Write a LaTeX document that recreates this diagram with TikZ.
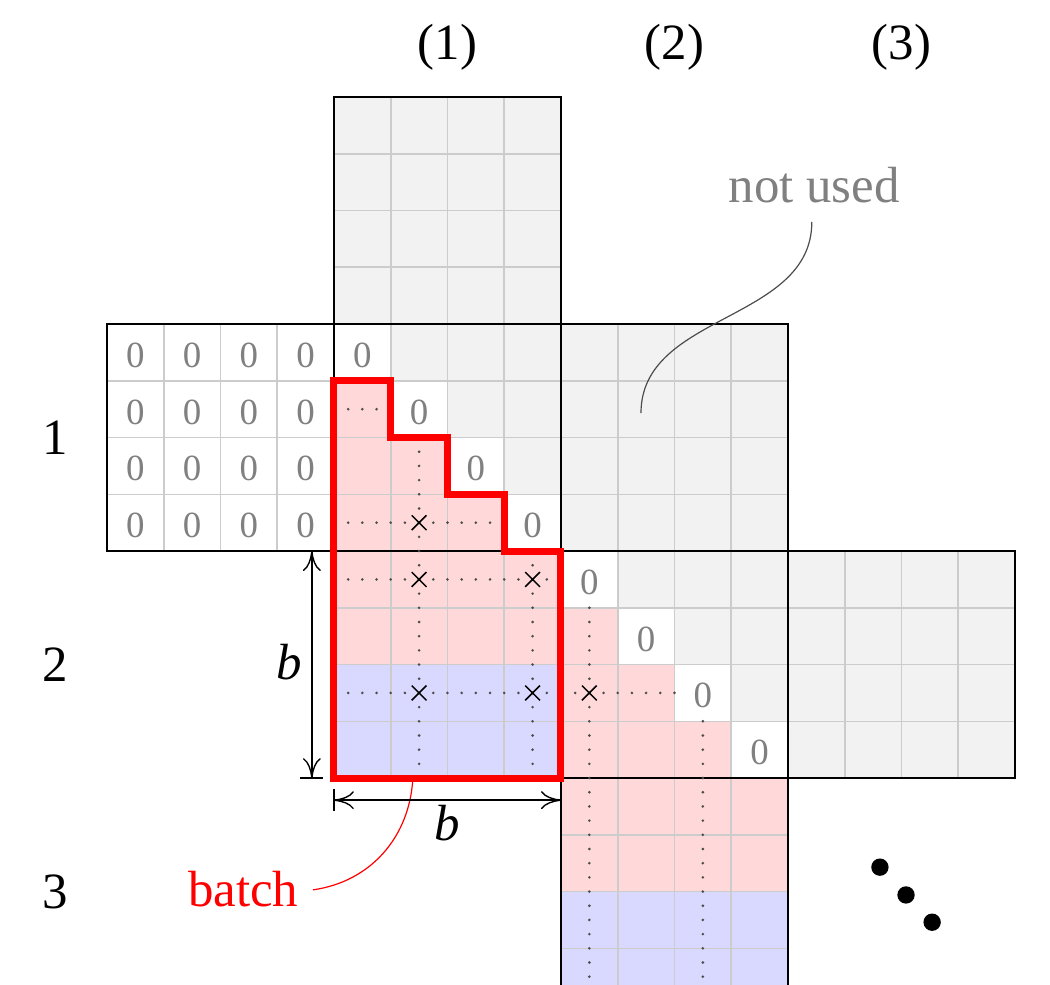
\documentclass[tikz,border=0pt]{standalone}
\usepackage{fontspec}
\setmainfont{Liberation Serif}
\usetikzlibrary{arrows.meta}
\begin{document}
\begin{tikzpicture}[x=1cm,y=1cm,
  graycell/.style={fill=black!5},
  pinkcell/.style={fill=red!15},
  bluecell/.style={fill=blue!15},
  whitecell/.style={fill=white},
  gridline/.style={draw=black!20,line width=0.8pt},
  blockline/.style={draw=black,line width=0.6pt},
  zero/.style={text=black!50,font=\fontsize{18.5}{20}\selectfont,inner sep=0pt},
  dotline/.style={draw=black!70,line width=1.45pt,line cap=round,dash pattern=on 0pt off 0.25cm},
  crossmark/.style={draw=black,line width=0.75pt},
  batchline/.style={draw=red,line width=3.5pt,line join=miter},
  biglabel/.style={font=\fontsize{25.5}{28}\selectfont},
  dimline/.style={line width=0.7pt,{Computer Modern Rightarrow[length=10pt,width=9pt]}-{Computer Modern Rightarrow[length=10pt,width=9pt]}},
  tickline/.style={line width=0.7pt},
  callout/.style={line width=0.6pt},
]
\clip (-1.885,-11.63) rectangle (16.617,5.71);

% ---- fills ----
\fill[graycell] (4,0) rectangle (8,4);
\fill[whitecell] (0,-4) rectangle (4,0);
\fill[graycell] (4,-4) rectangle (8,0);
\fill[pinkcell] (4,-1) -- (5,-1) -- (5,-2) -- (6,-2) -- (6,-3) -- (7,-3) -- (7,-4) -- (4,-4) -- cycle;
\fill[graycell] (8,-4) rectangle (12,0);
\fill[pinkcell] (4,-6) rectangle (8,-4);
\fill[bluecell] (4,-8) rectangle (8,-6);
\fill[graycell] (8,-8) rectangle (12,-4);
\fill[pinkcell] (8,-5) -- (9,-5) -- (9,-6) -- (10,-6) -- (10,-7) -- (11,-7) -- (11,-8) -- (8,-8) -- cycle;
\fill[graycell] (12,-8) rectangle (16,-4);
\fill[pinkcell] (8,-10) rectangle (12,-8);
\fill[bluecell] (8,-12) rectangle (12,-10);
\foreach \i in {0,...,3}{
  \fill[whitecell] (4+\i,-\i) rectangle (5+\i,-1-\i);
  \fill[whitecell] (8+\i,-4-\i) rectangle (9+\i,-5-\i);
}

% ---- grids ----
\draw[gridline] (4,0) grid (8,4);
\draw[gridline] (0,-4) grid (4,0);
\draw[gridline] (4,-4) grid (8,0);
\draw[gridline] (8,-4) grid (12,0);
\draw[gridline] (4,-8) grid (8,-4);
\draw[gridline] (8,-8) grid (12,-4);
\draw[gridline] (12,-8) grid (16,-4);
\draw[gridline] (8,-12) grid (12,-8);

% ---- block borders ----
\draw[blockline] (4,0) rectangle (8,4);
\draw[blockline] (0,-4) rectangle (4,0);
\draw[blockline] (4,-4) rectangle (8,0);
\draw[blockline] (8,-4) rectangle (12,0);
\draw[blockline] (4,-8) rectangle (8,-4);
\draw[blockline] (8,-8) rectangle (12,-4);
\draw[blockline] (12,-8) rectangle (16,-4);
\draw[blockline] (8,-12.5) rectangle (12,-8);

% ---- zeros ----
\foreach \r in {0,...,3}{
  \foreach \c in {0,...,3}{
    \node[zero] (zl-\r-\c) at (0.5+\c,-0.55-\r) {0};
  }
}
\foreach \i in {0,...,3}{
  \node[zero] (za-\i) at (4.5+\i,-0.55-\i) {0};
  \node[zero] (zb-\i) at (8.5+\i,-4.55-\i) {0};
}

% ---- dotted lines ----
\draw[dotline] (4,-1.5) -- (5,-1.5);
\draw[dotline] (4,-3.5) -- (7,-3.5);
\draw[dotline] (4,-4.5) -- (8,-4.5);
\draw[dotline] (4,-6.5) -- (10,-6.5);
\draw[dotline] (5.5,-2) -- (5.5,-8);
\draw[dotline] (7.5,-4) -- (7.5,-8);
\draw[dotline] (8.5,-5) -- (8.5,-12);
\draw[dotline] (10.5,-7) -- (10.5,-12);

% ---- crosses ----
\foreach \p in {(5.5,-3.5),(5.5,-4.5),(7.5,-4.5),(5.5,-6.5),(7.5,-6.5),(8.5,-6.5)}{
  \draw[crossmark] \p +(-0.13,-0.13) -- +(0.13,0.13) \p +(-0.13,0.13) -- +(0.13,-0.13);
}

% ---- batch callout ----
\node[biglabel,text=red] (batch) at (2.40,-9.96) {batch};
\coordinate (bstart) at (5.39,-8.0);
\coordinate (bend) at (3.63,-9.97);
\draw[callout,red] (bstart) to[out=-93,in=8] (bend);

% ---- red outline ----
\draw[batchline] (4,-1) -- (5,-1) -- (5,-2) -- (6,-2) -- (6,-3) -- (7,-3) -- (7,-4) -- (8,-4) -- (8,-8) -- (4,-8) -- cycle;

% ---- dimensions ----
\coordinate (vt) at (3.61,-4);
\coordinate (vb) at (3.61,-8);
\draw[dimline] (vb) -- (vt);
\draw[tickline] (3.40,-8) -- (3.80,-8);
\node[biglabel] (bv) at (3.21,-5.95) {\textit{b}};
\coordinate (hl) at (4,-8.39);
\coordinate (hr) at (8,-8.39);
\draw[dimline] (hl) -- (hr);
\draw[tickline] (4,-8.20) -- (4,-8.58);
\node[biglabel] (bh) at (6,-8.80) {\textit{b}};

% ---- labels ----
\node[biglabel] (c1) at (6,4.88) {(1)};
\node[biglabel] (c2) at (10,4.88) {(2)};
\node[biglabel] (c3) at (14,4.88) {(3)};
\node[biglabel] (r1) at (-0.916,-2) {1};
\node[biglabel] (r2) at (-0.916,-6) {2};
\node[biglabel] (r3) at (-0.916,-10) {3};

% ---- not used callout ----
\node[biglabel,text=black!50] (nu) at (12.46,2.45) {not used};
\coordinate (nustart) at (12.42,1.80);
\coordinate (nuend) at (9.41,-1.57);
\draw[callout,black!70] (nustart) to[out=-90,in=90] (nuend);

% ---- diagonal dots ----
\fill (13.62,-9.57) circle (0.153);
\fill (14.08,-10.06) circle (0.153);
\fill (14.54,-10.54) circle (0.153);
\end{tikzpicture}
\end{document}
